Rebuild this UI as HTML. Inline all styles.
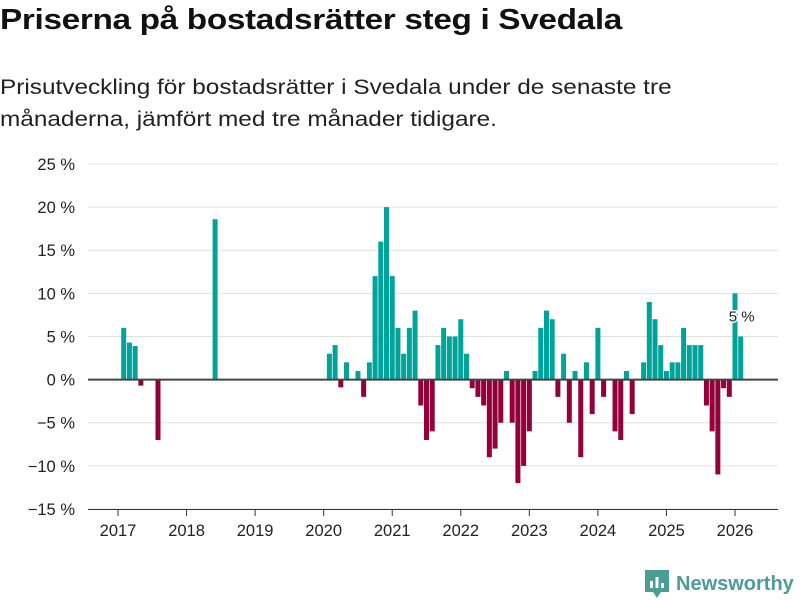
<!DOCTYPE html>
<html><head><meta charset="utf-8"><style>
body{margin:0;background:#fff;width:800px;height:600px;overflow:hidden;font-family:"Liberation Sans","DejaVu Sans",sans-serif;color:#111}
#title{position:absolute;left:0;top:4px;font-size:29px;font-weight:bold;margin:0;letter-spacing:-0.3px;transform:scaleX(1.15);transform-origin:0 0;white-space:nowrap}
#sub{position:absolute;left:0;top:72px;font-size:21px;line-height:32px;margin:0;color:#222;transform:scaleX(1.16);transform-origin:0 0;white-space:nowrap}
</style></head><body>
<h1 id="title">Priserna på bostadsrätter steg i Svedala</h1>
<p id="sub">Prisutveckling för bostadsrätter i Svedala under de senaste tre<br>månaderna, jämfört med tre månader tidigare.</p>
<svg id="chart" width="800" height="600" style="position:absolute;left:0;top:0" font-family="Liberation Sans, DejaVu Sans, sans-serif"></svg>
<div style="position:absolute;left:645px;top:569px;height:30px;display:flex;align-items:center">
<svg width="24" height="28" viewBox="0 0 24 28"><path d="M0 0H24V22H16L12 28L8 22H0Z" fill="#4a9e95"/><rect x="5" y="11" width="3" height="7" fill="#fff"/><rect x="10.5" y="7" width="3" height="11" fill="#fff"/><rect x="16" y="13" width="3" height="5" fill="#fff"/></svg>
<span style="font-size:20px;font-weight:bold;color:#4a9e95;margin-left:7px">Newsworthy</span></div>
<script>
const yTicks=[25,20,15,10,5,0,-5,-10,-15];
const xYears=[2017,2018,2019,2020,2021,2022,2023,2024,2025,2026];
// month index since Jan 2017
const months=[1,2,3,4,7,17,37,38,39,40,42,43,44,45,46,47,48,49,50,51,52,53,54,55,56,57,58,59,60,61,62,63,64,65,66,67,68,69,70,71,72,73,74,75,76,77,78,79,80,81,82,83,84,85,87,88,89,90,92,93,94,95,96,97,98,99,100,101,102,103,104,105,106,107,108,109];
const values=[6,4.3,3.9,-0.7,-7,18.6,3,4,-0.9,2,1,-2,2,12,16,20,12,6,3,6,8,-3,-7,-6,4,6,5,5,7,3,-1,-2,-3,-9,-8,-5,1,-5,-12,-10,-6,1,6,8,7,-2,3,-5,1,-9,2,-4,6,-2,-6,-7,1,-4,2,9,7,4,1,2,2,6,4,4,4,-3,-6,-11,-1,-2,10,5];
const NS="http://www.w3.org/2000/svg";
const svg=document.getElementById('chart');
const x0=118,step=5.713,plotL=88,plotR=778;
const y=v=>379.6-v*8.625;
const x=m=>x0+m*step;
function mk(t,a){const e=document.createElementNS(NS,t);for(const k in a)e.setAttribute(k,a[k]);svg.appendChild(e);return e;}
yTicks.forEach(v=>{
 if(v!==0){const g=mk('line',{x1:plotL,x2:plotR,y1:y(v),y2:y(v),stroke:'#e0e0e0','stroke-width':1});
 
 }
 const t=mk('text',{x:75,y:y(v)+6,'text-anchor':'end','font-size':16.5,fill:'#222'});
 t.textContent=(v<0?'−'+(-v):v)+' %';
 
 
});
xYears.forEach((yr,i)=>{
 const xx=x(i*12);
 const l=mk('line',{x1:xx,x2:xx,y1:510,y2:516,stroke:'#333','stroke-width':1});
 
 
 const t=mk('text',{x:xx,y:536,'text-anchor':'middle','font-size':16.5,fill:'#222'});
 t.textContent=yr;
 
 
});
const ax=mk('line',{x1:plotL,x2:plotR,y1:509.5,y2:509.5,stroke:'#333','stroke-width':1});


months.forEach((m,i)=>{
 const v=values[i];
 const r=mk('rect',{x:x(m)-2.5,width:5,y:Math.min(y(v),y(0)),height:Math.abs(y(v)-y(0)),fill:v>=0?'#00a39a':'#93003a'});
 
 
});
const z=mk('line',{x1:plotL,x2:plotR,y1:y(0),y2:y(0),stroke:'#444','stroke-width':2});


const lm=months[months.length-1],lv=values[values.length-1];
const lab=mk('text',{x:x(lm)+1,y:y(lv)-15,'text-anchor':'middle','font-size':15,fill:'#222',stroke:'#fff','stroke-width':3,'paint-order':'stroke'});
lab.textContent=lv+' %';


</script>
</body></html>
